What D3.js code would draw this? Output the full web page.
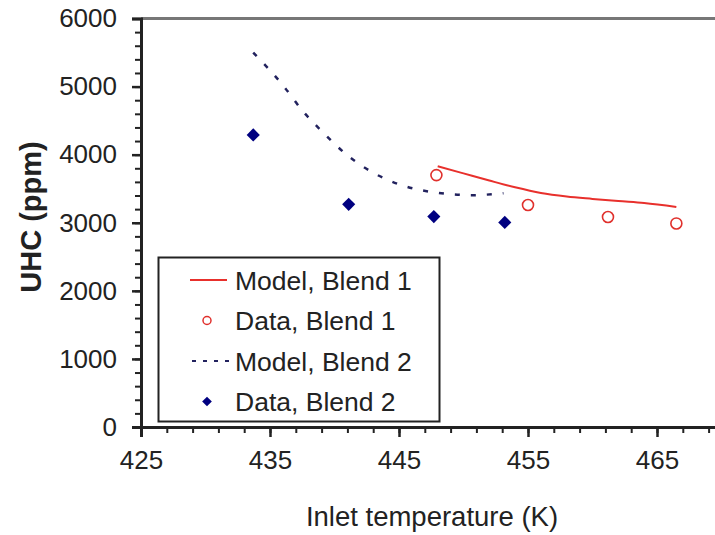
<!DOCTYPE html>
<html>
<head>
<meta charset="utf-8">
<script src="https://cdn.jsdelivr.net/npm/d3@7"></script>
<style>
body { margin: 0; background: #fff; }
text { font-family: "Liberation Sans", Arial, sans-serif; fill: #222; }
</style>
</head>
<body>
<script>
// values
var model1Temp = [448.0, 450, 452, 454, 456, 458, 460, 462, 464, 466.5];
var model1Uhc = [3830, 3725, 3620, 3520, 3437, 3385, 3350, 3318, 3290, 3232];
var data1Temp = [447.9, 455.0, 461.2, 466.5];
var data1Uhc = [3700, 3260, 3085, 2990];
var model2Temp = [433.7, 436.0, 437.5, 439.2, 441.0, 442.9, 445.0, 447.6, 450.7, 453.1];
var model2Uhc = [5500, 5020, 4650, 4310, 3990, 3745, 3565, 3450, 3405, 3435];
var data2Temp = [433.7, 441.1, 447.7, 453.2];
var data2Uhc = [4290, 3270, 3090, 3005];
var xTicks = [425, 435, 445, 455, 465];
var yTicks = [0, 1000, 2000, 3000, 4000, 5000, 6000];
var legendLabels = ["Model, Blend 1", "Data, Blend 1", "Model, Blend 2", "Data, Blend 2"];

var svg = d3.select("body")
    .append("svg")
    .attr("width", 715)
    .attr("height", 535)
    .style("display", "block");

var x = d3.scaleLinear().domain([425, 470]).range([141, 721.5]);
var y = d3.scaleLinear().domain([0, 6000]).range([427, 18.5]);

function zip(a, b) { return a.map(function (v, i) { return [v, b[i]]; }); }

// top frame line
svg.append("line")
    .attr("x1", x(425)).attr("x2", 715)
    .attr("y1", y(6000)).attr("y2", y(6000))
    .attr("stroke", "#777").attr("stroke-width", 3);

// minor ticks
svg.append("g")
    .attr("transform", "translate(" + x(425) + ",0)")
    .call(d3.axisLeft(y).tickValues(d3.range(0, 6001, 200)).tickSize(6).tickFormat(""))
    .call(function (g) { g.select(".domain").remove(); g.selectAll("line").attr("stroke", "#222").attr("stroke-width", 2); });
svg.append("g")
    .attr("transform", "translate(0," + y(0) + ")")
    .call(d3.axisBottom(x).tickValues(d3.range(425, 471, 2)).tickSize(6).tickFormat(""))
    .call(function (g) { g.select(".domain").remove(); g.selectAll("line").attr("stroke", "#222").attr("stroke-width", 2); });

// major ticks + labels
var yAxis = svg.append("g")
    .attr("transform", "translate(" + x(425) + ",0)")
    .call(d3.axisLeft(y).tickValues(yTicks).tickSize(9).tickPadding(15).tickFormat(d3.format("d")));
yAxis.select(".domain").attr("stroke", "#222").attr("stroke-width", 3);
yAxis.selectAll("line").attr("stroke", "#222").attr("stroke-width", 2.5);
yAxis.selectAll("text").style("font-size", "26px").attr("fill", "#222");

var xAxis = svg.append("g")
    .attr("transform", "translate(0," + y(0) + ")")
    .call(d3.axisBottom(x).tickValues(xTicks).tickSize(10).tickPadding(14).tickFormat(d3.format("d")));
xAxis.select(".domain").attr("stroke", "#222").attr("stroke-width", 3);
xAxis.selectAll("line").attr("stroke", "#222").attr("stroke-width", 2.5);
xAxis.selectAll("text").style("font-size", "26px").attr("fill", "#222");

// axis titles
svg.append("text")
    .attr("x", 432).attr("y", 526)
    .attr("text-anchor", "middle")
    .style("font-size", "27.5px")
    .text("Inlet temperature (K)");
svg.append("text")
    .attr("transform", "translate(41,217) rotate(-90)")
    .attr("text-anchor", "middle")
    .style("font-size", "29px")
    .style("font-weight", "bold")
    .text("UHC (ppm)");

// series
var line = d3.line()
    .x(function (d) { return x(d[0]); })
    .y(function (d) { return y(d[1]); })
    .curve(d3.curveMonotoneX);

svg.append("path")
    .datum(zip(model2Temp, model2Uhc))
    .attr("d", line)
    .attr("fill", "none")
    .attr("stroke", "#22225e")
    .attr("stroke-width", 2.5)
    .attr("stroke-dasharray", "5,11");

svg.append("path")
    .datum(zip(model1Temp, model1Uhc))
    .attr("d", line)
    .attr("fill", "none")
    .attr("stroke", "#e8302c")
    .attr("stroke-width", 2);

svg.selectAll(".d1")
    .data(zip(data1Temp, data1Uhc))
    .enter().append("circle")
    .attr("class", "d1")
    .attr("cx", function (d) { return x(d[0]); })
    .attr("cy", function (d) { return y(d[1]); })
    .attr("r", 5.5)
    .attr("fill", "none")
    .attr("stroke", "#e0302c")
    .attr("stroke-width", 1.6);

var diamond = d3.symbol().type(d3.symbolDiamond2).size(110);
svg.selectAll(".d2")
    .data(zip(data2Temp, data2Uhc))
    .enter().append("path")
    .attr("class", "d2")
    .attr("transform", function (d) { return "translate(" + x(d[0]) + "," + y(d[1]) + ")"; })
    .attr("d", diamond)
    .attr("fill", "#000080");

// legend
var leg = svg.append("g");
leg.append("rect")
    .attr("x", 158.5).attr("y", 257.5)
    .attr("width", 281).attr("height", 164)
    .attr("fill", "#fff")
    .attr("stroke", "#222")
    .attr("stroke-width", 2);

var rowY = function (i) { return 280 + i * 40.5; };
leg.append("line").attr("x1", 190).attr("x2", 227).attr("y1", rowY(0)).attr("y2", rowY(0))
    .attr("stroke", "#e8302c").attr("stroke-width", 2);
leg.append("circle").attr("cx", 207).attr("cy", rowY(1)).attr("r", 4)
    .attr("fill", "none").attr("stroke", "#e0302c").attr("stroke-width", 1.5);
leg.append("line").attr("x1", 192).attr("x2", 229).attr("y1", rowY(2)).attr("y2", rowY(2))
    .attr("stroke", "#22225e").attr("stroke-width", 2).attr("stroke-dasharray", "4,7");
leg.append("path").attr("transform", "translate(207," + rowY(3) + ")")
    .attr("d", d3.symbol().type(d3.symbolDiamond2).size(60)).attr("fill", "#000080");

leg.selectAll(".lt")
    .data(legendLabels)
    .enter().append("text")
    .attr("class", "lt")
    .attr("x", 235)
    .attr("y", function (d, i) { return rowY(i); })
    .attr("dy", "0.36em")
    .style("font-size", "26.5px")
    .text(function (d) { return d; });
</script>
</body>
</html>
